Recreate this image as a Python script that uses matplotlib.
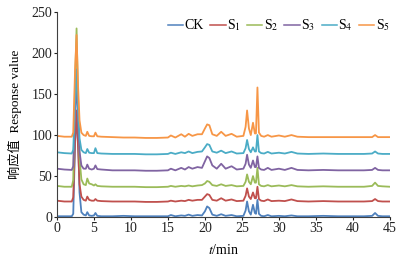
import matplotlib
matplotlib.use("Agg")
import matplotlib.pyplot as plt

# retention time grid (min)
t_min = [0, 1.0, 2.0, 2.2, 2.45, 2.65, 2.85, 3.05, 3.3, 3.6,
	3.9, 4.1, 4.35, 4.7, 5.0, 5.2, 5.45, 6.0, 7.5, 9.0,
	10.5, 12.0, 13.5, 15.0, 15.4, 16.0, 16.8, 17.3, 17.8, 18.3,
	19.0, 19.6, 20.0, 20.3, 20.6, 21.0, 21.6, 22.2, 22.8, 23.6,
	24.3, 25.2, 25.5, 25.7, 25.95, 26.2, 26.5, 26.75, 26.9, 27.1,
	27.3, 27.6, 28.0, 28.5, 29.0, 30.0, 30.8, 31.7, 32.5, 34.0,
	36.0, 38.0, 40.0, 41.5, 42.6, 43.0, 43.4, 44.0, 45.0]

ck = [1, 1, 1, 4, 92, 110, 100, 30, 6, 3,
	2, 6, 2, 1.5, 2, 5, 1.5, 1, 1, 1.5,
	1, 1, 1, 1, 2.5, 1, 2, 1.5, 3, 1.5,
	2.5, 2, 7, 13, 11, 3, 1.5, 3.5, 1.5, 2.5,
	1, 1.5, 8, 19, 7, 3, 15, 5, 4, 21,
	4, 1.5, 1, 2.5, 1, 1.5, 1, 2, 1, 1,
	1.5, 1, 1, 1, 1.5, 5, 1.5, 1, 1]

s1 = [20, 19, 19, 24, 95, 130, 85, 40, 25, 21,
	20, 25, 21, 20, 20, 22, 20, 19.5, 19, 19,
	19, 18.5, 18.5, 19, 20, 19, 20, 19.5, 21, 20,
	21, 21, 25, 28, 27, 21, 20, 23, 20, 21.5,
	19.5, 20, 26, 35, 25, 22, 30, 23, 23, 37,
	22, 20, 19.5, 21.5, 19.5, 20, 19.5, 21.5, 19.5, 19,
	19.5, 19, 19, 19, 19.5, 22, 19.5, 19, 19]

s2 = [38, 37, 37, 45, 165, 230, 145, 72, 46, 40,
	39, 47, 41, 40, 38.5, 40, 38, 37.5, 37, 37,
	37, 36.5, 36.5, 37, 38, 37, 38, 37.5, 38.5, 37.5,
	38.5, 39, 41, 44, 43, 39, 38, 40, 38, 39,
	37.5, 38, 43, 52, 43, 40, 50, 42, 42, 60,
	40, 38, 37.5, 39, 37.5, 38.5, 37.5, 39, 37.5, 37,
	37.5, 37, 37, 37, 38, 42, 38, 37.5, 37]

s3 = [59, 58, 57.5, 62, 128, 165, 118, 80, 63, 59,
	59, 64, 59, 58, 59, 63, 58.5, 58, 57, 57,
	57, 56.5, 56.5, 57, 59, 57, 60, 58, 61, 59,
	61, 60, 68, 74, 72, 63, 59, 65, 59, 62,
	58, 59, 65, 76, 64, 60, 69, 61, 61, 74,
	60, 58, 57.5, 60, 57.5, 59, 57.5, 60, 57.5, 57,
	57.5, 57, 57, 57, 57.5, 60, 57.5, 57, 57]

s4 = [79, 78, 77.5, 82, 142, 180, 132, 96, 82, 79,
	78, 83, 78.5, 78, 78, 84, 78, 77.5, 77, 77,
	77, 76.5, 76.5, 77, 78.5, 77, 79, 78, 80, 78,
	79.5, 80, 85, 89, 88, 80, 78.5, 81, 78, 80,
	77.5, 78, 84, 94, 83, 79, 85, 80, 80, 100,
	80, 78, 77.5, 79.5, 77.5, 78.5, 77.5, 79.5, 77.5, 77,
	77.5, 77, 77, 77, 77.5, 80, 77.5, 77, 77]

s5 = [99, 98, 98, 103, 180, 222, 160, 118, 103, 100,
	99, 104, 99, 98.5, 98.5, 103, 98.5, 98, 97.5, 97,
	97, 96.5, 96.5, 97, 99.5, 97, 101, 98, 101.5, 99,
	101, 101, 108, 113, 112, 101, 99, 104, 99, 101.5,
	98, 99, 110, 130, 108, 100, 115, 102, 102, 158,
	103, 99, 98, 100, 98, 99.5, 98, 100, 98, 97.5,
	97.5, 97.5, 97.5, 97.5, 97.5, 100, 97.5, 97.5, 97.5]

labels = ["CK", "S$_1$", "S$_2$", "S$_3$", "S$_4$", "S$_5$"]
colors = ["#4F81BD", "#C0504D", "#9BBB59", "#8064A2", "#4BACC6", "#F79646"]
series = [ck, s1, s2, s3, s4, s5]

plt.rcParams['font.family'] = ['Liberation Serif', 'Noto Sans CJK SC']
plt.rcParams['mathtext.fontset'] = 'stix'

fig = plt.figure(figsize=(4.04, 2.56), dpi=100)
ax = fig.add_axes([0.141, 0.152, 0.824, 0.801])

for y, lab, c in zip(series, labels, colors):
	ax.plot(t_min, y, color=c, lw=1.3, label=lab)

ax.set_xlim(0, 45)
ax.set_ylim(0, 250)
ax.set_xticks(range(0, 46, 5))
ax.set_yticks(range(0, 251, 50))
ax.spines['top'].set_visible(False)
ax.spines['right'].set_visible(False)
ax.spines['left'].set_color('#404040')
ax.spines['bottom'].set_color('#404040')
ax.tick_params(labelsize=10, length=2, width=0.8, pad=1.5, colors='#222222')

ax.set_xlabel("$t$/min", fontsize=10, labelpad=6)
ax.set_ylabel("响应值  Response value", fontsize=9.5, labelpad=7)

leg = ax.legend(loc='center right', ncol=6, frameon=False, fontsize=10,
	handlelength=1.1, handletextpad=0.1, columnspacing=0.45,
	borderaxespad=0.0, borderpad=0.0, bbox_to_anchor=(1.0, 0.935))
for h in leg.get_lines():
	h.set_linewidth(1.1)

fig.savefig("out.png", dpi=100)
